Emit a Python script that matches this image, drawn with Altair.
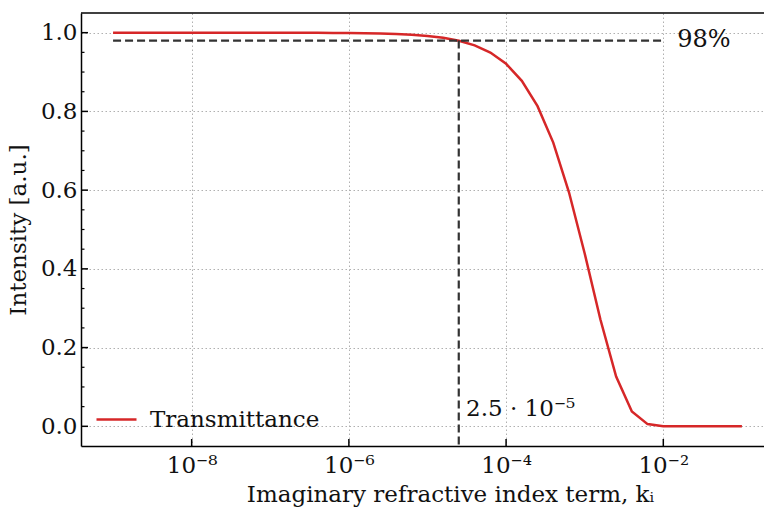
import altair as alt
import pandas as pd

# ---- data ----
k_exponents = [-9.0, -8.8, -8.6, -8.4, -8.2, -8.0, -7.8, -7.6, -7.4, -7.2,
               -7.0, -6.8, -6.6, -6.4, -6.2, -6.0, -5.8, -5.6, -5.4, -5.2,
               -5.0, -4.8, -4.6, -4.4, -4.2, -4.0, -3.8, -3.6, -3.4, -3.2,
               -3.0, -2.8, -2.6, -2.4, -2.2, -2.0, -1.8, -1.6, -1.4, -1.2, -1.0]
transmittance = [1.0, 1.0, 1.0, 1.0, 1.0, 1.0, 1.0, 1.0, 1.0, 0.9999,
                 0.9999, 0.9999, 0.9998, 0.9997, 0.9995, 0.9992, 0.9987, 0.9979, 0.9967, 0.9948,
                 0.9918, 0.9871, 0.9796, 0.9678, 0.9494, 0.921, 0.8777, 0.8133, 0.7207, 0.5946,
                 0.4391, 0.2713, 0.1265, 0.0378, 0.0056, 0.0003, 0.0, 0.0, 0.0, 0.0, 0.0]
series_name = "Transmittance"

threshold_level = 0.98
threshold_k = 2.5e-5
h_line_start = 1e-9
h_line_end = 1e-2
level_label = "98%"
level_label_x = 1.5e-2
k_label = "2.5 · 10⁻⁵"
k_label_x = 3.1e-5
k_label_y = 0.045

x_ticks = [1e-8, 1e-6, 1e-4, 1e-2]
x_tick_labels = ["10⁻⁸", "10⁻⁶", "10⁻⁴", "10⁻²"]
y_ticks = [0.0, 0.2, 0.4, 0.6, 0.8, 1.0]
y_minor_ticks = [0.05, 0.1, 0.15, 0.25, 0.3, 0.35, 0.45, 0.5, 0.55,
                 0.65, 0.7, 0.75, 0.85, 0.9, 0.95]
x_domain = [3.91e-10, 0.191]
y_domain = [-0.05, 1.05]

x_title = "Imaginary refractive index term, kᵢ"
y_title = "Intensity [a.u.]"

# ---- layout / style ----
W, H = 683, 433
FONT = "DejaVu Serif"
RED = "#d62728"
DARK = "#333333"

df = pd.DataFrame({"k": [10 ** e for e in k_exponents],
                   "T": transmittance,
                   "series": [series_name] * len(k_exponents)})

label_expr = " : ".join(
    f"datum.value < {v * 3:.3e} ? '{lab}'" for v, lab in zip(x_ticks[:-1], x_tick_labels[:-1])
) + f" : '{x_tick_labels[-1]}'"

xscale = alt.Scale(type="log", domain=x_domain, nice=False)
yscale = alt.Scale(domain=y_domain, nice=False, zero=False)

line = alt.Chart(df).mark_line(strokeWidth=2.5, clip=True).encode(
    x=alt.X("k:Q", scale=xscale,
            axis=alt.Axis(values=x_ticks, labelExpr=label_expr, title=x_title,
                          grid=True, ticks=False, labelPadding=8, titlePadding=6,
                          titleX=369, titleAnchor="middle")),
    y=alt.Y("T:Q", scale=yscale,
            axis=alt.Axis(values=y_ticks, format=".1f", title=y_title,
                          grid=True, ticks=False, labelPadding=4, titlePadding=10)),
    color=alt.Color("series:N",
                    scale=alt.Scale(domain=[series_name], range=[RED]),
                    legend=alt.Legend(title=None, orient="none", legendX=14, legendY=385,
                                      symbolType="stroke", symbolSize=1600,
                                      symbolStrokeWidth=2.5, labelFontSize=23,
                                      labelFont=FONT, labelColor="#111", labelLimit=400,
                                      padding=0, labelOffset=12)),
)

hline = alt.Chart(pd.DataFrame({"x": [h_line_start], "x2": [h_line_end],
                                "y": [threshold_level]})).mark_rule(
    color=DARK, strokeWidth=2.2, strokeDash=[8, 4]).encode(
    x="x:Q", x2="x2:Q", y="y:Q")

vline = alt.Chart(pd.DataFrame({"x": [threshold_k], "y": [threshold_level],
                                "y2": [y_domain[0]]})).mark_rule(
    color=DARK, strokeWidth=2.2, strokeDash=[8, 4]).encode(
    x="x:Q", y="y:Q", y2="y2:Q")

txt98 = alt.Chart(pd.DataFrame({"x": [level_label_x], "y": [threshold_level],
                                "t": [level_label]})).mark_text(
    align="left", baseline="middle", font=FONT, fontSize=24, color="#111", dy=-1).encode(
    x="x:Q", y="y:Q", text="t:N")

txtk = alt.Chart(pd.DataFrame({"x": [k_label_x], "y": [k_label_y],
                               "t": [k_label]})).mark_text(
    align="left", baseline="middle", font=FONT, fontSize=23, color="#111").encode(
    x="x:Q", y="y:Q", text="t:N")

ytick_major = alt.Chart(pd.DataFrame({"y": y_ticks})).mark_rule(
    color="black", strokeWidth=1.5).encode(
    y="y:Q", x=alt.value(0), x2=alt.value(7))
ytick_minor = alt.Chart(pd.DataFrame({"y": y_minor_ticks})).mark_rule(
    color="black", strokeWidth=1.2).encode(
    y="y:Q", x=alt.value(0), x2=alt.value(3.5))
xtick_major = alt.Chart(pd.DataFrame({"x": x_ticks})).mark_rule(
    color="black", strokeWidth=1.5).encode(
    x="x:Q", y=alt.value(H), y2=alt.value(H - 7))
top_spine = alt.Chart(alt.Data(values=[{}])).mark_rule(
    color="black", strokeWidth=1.5).encode(
    x=alt.value(0), x2=alt.value(W), y=alt.value(0))

chart = alt.layer(
    line, hline, vline, txt98, txtk, ytick_major, ytick_minor, xtick_major, top_spine
).properties(
    width=W, height=H,
    autosize=alt.AutoSizeParams(type="none"),
    padding={"left": 81, "top": 13, "right": 0, "bottom": 61},
    background="white",
).configure_view(stroke=None).configure_axis(
    labelFont=FONT, titleFont=FONT, labelFontSize=23, titleFontSize=23,
    labelColor="#111", titleColor="#111", titleFontWeight="normal",
    domainColor="black", domainWidth=1.5,
    gridColor="#b0b0b0", gridDash=[1.5, 2.5], gridWidth=1,
)

chart.save("out.html", embed_options={"renderer": "svg", "actions": False})
